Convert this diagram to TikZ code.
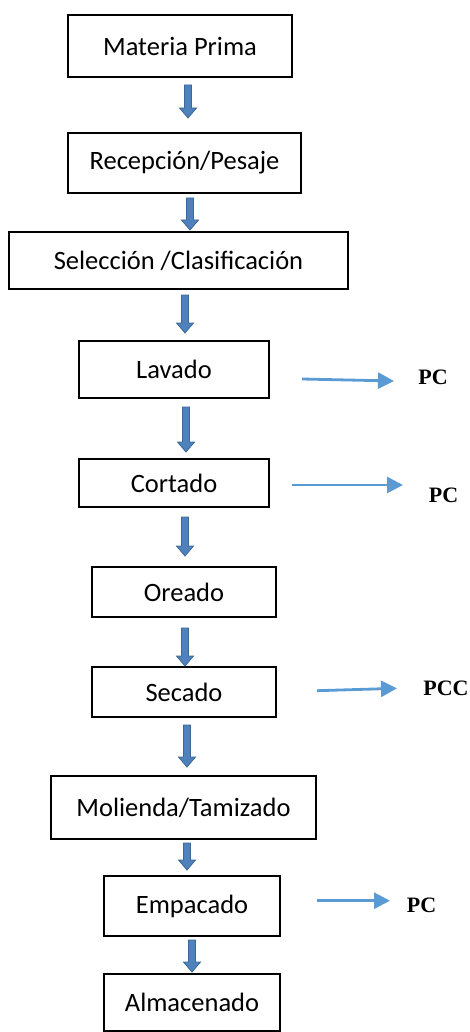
\documentclass[tikz,border=0pt]{standalone}
\usepackage{fontspec}
\setmainfont{Carlito}
\newfontfamily\labelfont{Liberation Serif}
\usetikzlibrary{arrows.meta,calc}

\definecolor{flowfill}{HTML}{4F81BD}
\definecolor{flowedge}{HTML}{3B6896}
\definecolor{sideblue}{HTML}{5B9BD5}

\tikzset{
  stepbox/.style={draw=black, line width=1.1pt, rectangle, inner sep=0pt,
    font=\fontsize{26.5}{30}\selectfont},
  blockarrow/.style={fill=flowfill, draw=flowedge, line width=0.8pt, line join=miter},
  sidearrow/.style={draw=sideblue, line width=2.8pt,
    -{Triangle[length=16pt,width=16pt]}},
  pclabel/.style={inner sep=0pt, font=\labelfont\bfseries\fontsize{22}{24}\selectfont}
}

% downward block arrow between two named coordinates (top, bottom)
\newcommand\blockdown[2]{%
  \filldraw[blockarrow]
    ($(#1)+(-3.5,0)$) -- ($(#1)+(3.5,0)$) -- ($(#2)+(3.5,-10)$) --
    ($(#2)+(8.5,-10)$) -- (#2) -- ($(#2)+(-8.5,-10)$) --
    ($(#2)+(-3.5,-10)$) -- cycle;}

\begin{document}
\begin{tikzpicture}[x=1pt, y=-1pt]
\useasboundingbox (0,0) rectangle (470,1032);

% process steps
\node[stepbox, minimum width=224, minimum height=62] (mp)  at (180,46)      {Materia Prima};
\node[stepbox, minimum width=233, minimum height=60] (rp)  at (184.5,163)   {Recepción/Pesaje};
\node[stepbox, minimum width=339, minimum height=57] (sc)  at (178.5,260.5) {Selección /Clasificación};
\node[stepbox, minimum width=190, minimum height=57] (lav) at (174,369.5)   {Lavado};
\node[stepbox, minimum width=190, minimum height=48] (cor) at (174,483)     {Cortado};
\node[stepbox, minimum width=184, minimum height=50] (ore) at (184,592)     {Oreado};
\node[stepbox, minimum width=184, minimum height=50] (sec) at (184,692)     {Secado};
\node[stepbox, minimum width=265, minimum height=63] (mol) at (183.5,807.5) {Molienda/Tamizado};
\node[stepbox, minimum width=176, minimum height=60] (emp) at (192,906)     {Empacado};
\node[stepbox, minimum width=176, minimum height=57] (alm) at (192,1002.5)  {Almacenado};

% control point labels
\node[pclabel] (pc1) at (433,377)   {PC};
\node[pclabel] (pc2) at (443.5,495) {PC};
\node[pclabel] (pcc) at (446,688)   {PCC};
\node[pclabel] (pc4) at (421.5,905) {PC};

% block arrows between steps
\coordinate (a1t) at (188,85);  \coordinate (a1b) at (188,118);
\coordinate (a2t) at (190,198); \coordinate (a2b) at (190,230);
\coordinate (a3t) at (185,295); \coordinate (a3b) at (185,333);
\coordinate (a4t) at (186,407); \coordinate (a4b) at (186,452);
\coordinate (a5t) at (185,517); \coordinate (a5b) at (185,556);
\coordinate (a6t) at (185,628); \coordinate (a6b) at (185,666);
\coordinate (a7t) at (187,725); \coordinate (a7b) at (187,767);
\coordinate (a8t) at (187,843); \coordinate (a8b) at (187,870);
\coordinate (a9t) at (192,940); \coordinate (a9b) at (192,972);
\blockdown{a1t}{a1b}
\blockdown{a2t}{a2b}
\blockdown{a3t}{a3b}
\blockdown{a4t}{a4b}
\blockdown{a5t}{a5b}
\blockdown{a6t}{a6b}
\blockdown{a7t}{a7b}
\blockdown{a8t}{a8b}
\blockdown{a9t}{a9b}

% arrows to control points
\coordinate (s1a) at (302,379);   \coordinate (s1b) at (394,381);
\coordinate (s2a) at (292,485);   \coordinate (s2b) at (403,485);
\coordinate (s3a) at (317,690.7); \coordinate (s3b) at (397,688.3);
\coordinate (s4a) at (317,900.7); \coordinate (s4b) at (390,900.7);
\draw[sidearrow] (s1a) -- (s1b);
\draw[sidearrow] (s2a) -- (s2b);
\draw[sidearrow] (s3a) -- (s3b);
\draw[sidearrow] (s4a) -- (s4b);
\end{tikzpicture}
\end{document}
